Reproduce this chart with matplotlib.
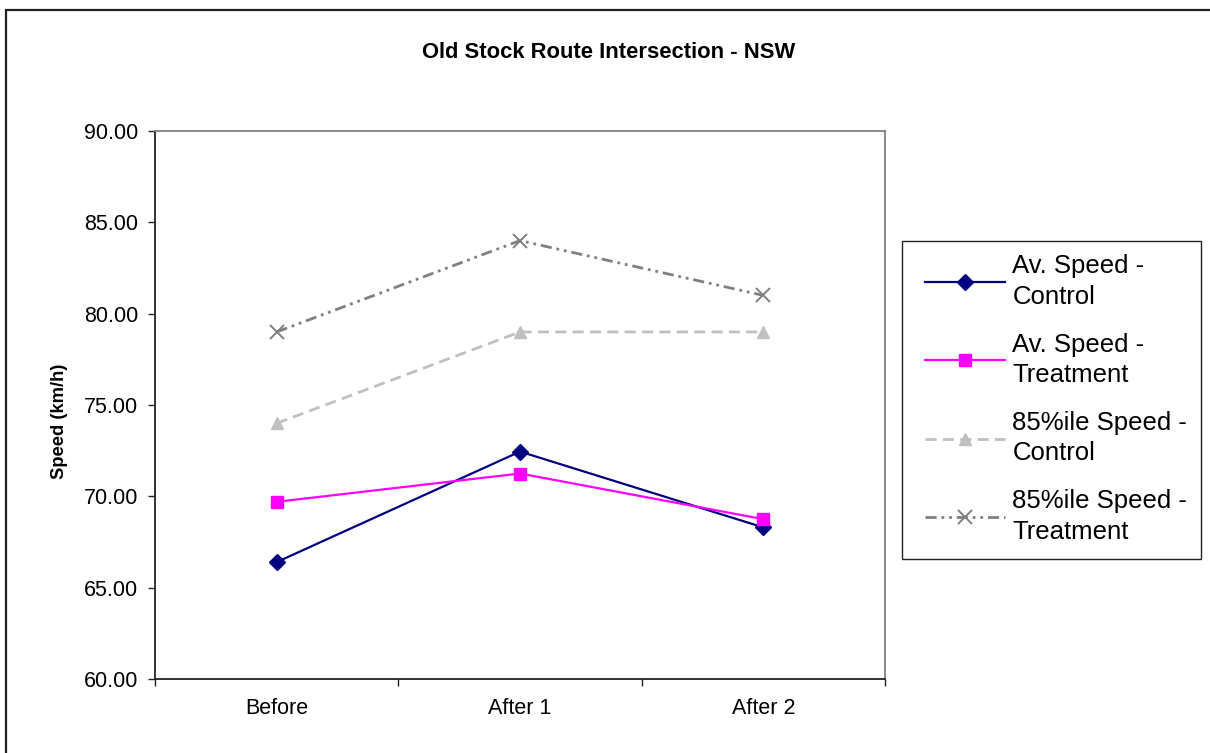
import matplotlib
matplotlib.use("Agg")
import matplotlib.pyplot as plt
from matplotlib.patches import Rectangle
from matplotlib.ticker import FixedLocator, FixedFormatter, MultipleLocator, FormatStrFormatter

plt.rcParams['font.family'] = ['Liberation Sans', 'DejaVu Sans']
plt.rcParams['lines.scale_dashes'] = False

# Speed survey results (km/h)
periods = ["Before", "After 1", "After 2"]
av_control = [66.40, 72.45, 68.30]
av_treatment = [69.70, 71.25, 68.75]
p85_control = [74.00, 79.00, 79.00]
p85_treatment = [79.00, 84.00, 81.00]

series_labels = [
    "Av. Speed -\nControl",
    "Av. Speed -\nTreatment",
    "85%ile Speed -\nControl",
    "85%ile Speed -\nTreatment",
]

W, H = 1210, 753
fig = plt.figure(figsize=(W / 100, H / 100), dpi=100)
fig.patch.set_facecolor("white")

# outer chart border
fig.patches.append(Rectangle((6 / W, -0.05), 1.1, 1 - 10 / H + 0.05,
                             transform=fig.transFigure, fill=False,
                             edgecolor="#222222", linewidth=1.6))

ax = fig.add_axes([155 / W, 1 - 679 / H, 730 / W, 548 / H])

x = list(range(len(periods)))
l1, = ax.plot(x, av_control, color="#000080", lw=1.6, marker="D",
              markersize=8.5, markerfacecolor="#000080", markeredgecolor="#000080")
l2, = ax.plot(x, av_treatment, color="#FF00FF", lw=1.6, marker="s",
              markersize=8, markerfacecolor="#FF00FF", markeredgecolor="#FF00FF")
l3, = ax.plot(x, p85_control, color="#C0C0C0", lw=2.0, marker="^",
              markersize=9, markerfacecolor="#C0C0C0", markeredgecolor="#C0C0C0",
              linestyle=(0, (8, 4.5)))
l4, = ax.plot(x, p85_treatment, color="#808080", lw=2.0, marker="x",
              markersize=9.5, markeredgewidth=1.4,
              linestyle=(0, (8, 3.5, 2, 3.5, 2, 3.5)))

ax.set_xlim(-0.5, 2.5)
ax.set_ylim(60, 90)

ax.xaxis.set_major_locator(FixedLocator([-0.5, 0.5, 1.5, 2.5]))
ax.xaxis.set_major_formatter(FixedFormatter([""] * 4))
ax.xaxis.set_minor_locator(FixedLocator(x))
ax.xaxis.set_minor_formatter(FixedFormatter(periods))
ax.tick_params(axis="x", which="major", direction="out", length=5, width=1.0, color="#222222")
ax.tick_params(axis="x", which="minor", length=0, pad=14, labelsize=15.5)

ax.yaxis.set_major_locator(MultipleLocator(5))
ax.yaxis.set_major_formatter(FormatStrFormatter("%.2f"))
ax.tick_params(axis="y", direction="out", length=5, width=1.0, color="#222222",
               pad=7, labelsize=15.5)

for side in ("left", "bottom"):
    ax.spines[side].set_color("#222222")
    ax.spines[side].set_linewidth(1.3)
for side in ("top", "right"):
    ax.spines[side].set_color("#808080")
    ax.spines[side].set_linewidth(1.3)

fig.text(60 / W, 1 - 421 / H, "Speed (km/h)", rotation=90,
         ha="center", va="center", fontsize=13.2, fontweight="bold")
fig.text(609 / W, 1 - 53 / H, "Old Stock Route Intersection - NSW",
         ha="center", va="center", fontsize=15.8, fontweight="bold")

# legend box
fig.patches.append(Rectangle((902 / W, 1 - 559 / H), 299 / W, 318 / H,
                             transform=fig.transFigure, fill=False,
                             edgecolor="#222222", linewidth=1.0))
leg = fig.legend([l1, l2, l3, l4], series_labels, loc="center left",
                 bbox_to_anchor=(925 / W, 1 - 399 / H), frameon=False,
                 fontsize=18.5, handlelength=3.1, handletextpad=0.3,
                 labelspacing=0.92, numpoints=1, borderpad=0, borderaxespad=0)
for t in leg.get_texts():
    t.set_linespacing(1.35)

fig.savefig("out.png", dpi=100, facecolor="white")
